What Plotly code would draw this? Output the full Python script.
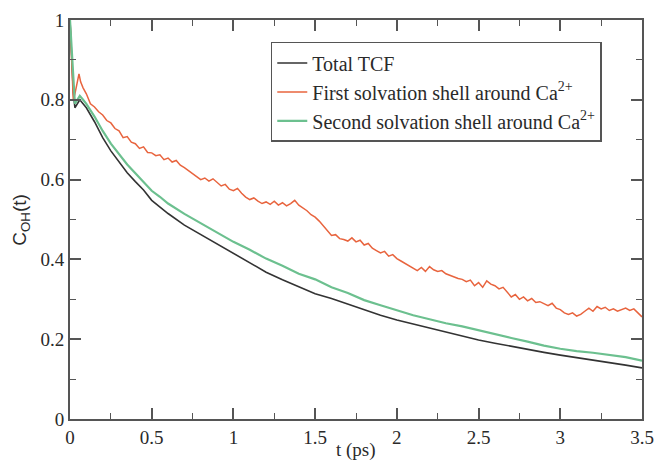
import numpy as np
import plotly.graph_objects as go

# ---- data ----
total_t = [0.0, 0.01, 0.02, 0.03, 0.045, 0.06, 0.08, 0.1, 0.15, 0.2, 0.25, 0.3, 0.35, 0.4, 0.45,
           0.5, 0.55, 0.6, 0.7, 0.8, 0.9, 1.0, 1.1, 1.2, 1.3, 1.4, 1.5, 1.6, 1.7, 1.8, 1.9,
           2.0, 2.1, 2.2, 2.3, 2.4, 2.5, 2.6, 2.7, 2.8, 2.9, 3.0, 3.1, 3.2, 3.3, 3.4, 3.5]
total_v = [1.0, 0.90, 0.82, 0.78, 0.79, 0.80, 0.79, 0.78, 0.745, 0.705, 0.672, 0.644, 0.617, 0.595, 0.574,
           0.548, 0.532, 0.515, 0.486, 0.462, 0.44, 0.416, 0.39, 0.368, 0.349, 0.331, 0.314, 0.302, 0.288, 0.274, 0.26,
           0.248, 0.238, 0.228, 0.217, 0.207, 0.198, 0.19, 0.182, 0.174, 0.167, 0.16, 0.154, 0.148, 0.142, 0.135, 0.128]

second_t = total_t
second_v = [1.0, 0.92, 0.84, 0.79, 0.80, 0.81, 0.80, 0.79, 0.758, 0.722, 0.69, 0.664, 0.638, 0.616, 0.594,
            0.572, 0.557, 0.54, 0.514, 0.49, 0.466, 0.444, 0.424, 0.402, 0.384, 0.364, 0.35, 0.33, 0.316, 0.298, 0.285,
            0.272, 0.26, 0.25, 0.24, 0.232, 0.222, 0.212, 0.203, 0.194, 0.184, 0.176, 0.17, 0.166, 0.161, 0.155, 0.146]

first_t_early = [0.0, 0.01, 0.02, 0.03, 0.045, 0.055, 0.065, 0.08]
first_v_early = [1.0, 0.88, 0.80, 0.815, 0.85, 0.865, 0.845, 0.83]
first_t_main = list(np.round(np.arange(0.1, 3.5001, 0.025), 3))
first_v_main = [
    0.815, 0.790, 0.782, 0.770, 0.762, 0.748, 0.742, 0.728, 0.722, 0.705,
    0.708, 0.694, 0.690, 0.678, 0.682, 0.668, 0.667, 0.660, 0.662, 0.650,
    0.654, 0.644, 0.648, 0.636, 0.630, 0.622, 0.614, 0.606, 0.600, 0.604,
    0.596, 0.602, 0.592, 0.584, 0.588, 0.576, 0.572, 0.578, 0.566, 0.556,
    0.550, 0.554, 0.546, 0.540, 0.544, 0.538, 0.546, 0.536, 0.542, 0.534,
    0.540, 0.548, 0.536, 0.530, 0.522, 0.512, 0.506, 0.496, 0.484, 0.470,
    0.460, 0.462, 0.452, 0.450, 0.446, 0.454, 0.444, 0.448, 0.436, 0.440,
    0.428, 0.422, 0.416, 0.420, 0.408, 0.412, 0.402, 0.396, 0.390, 0.384,
    0.376, 0.372, 0.380, 0.370, 0.382, 0.374, 0.370, 0.372, 0.364, 0.360,
    0.358, 0.352, 0.350, 0.344, 0.348, 0.334, 0.342, 0.330, 0.346, 0.338,
    0.334, 0.326, 0.330, 0.318, 0.306, 0.312, 0.300, 0.306, 0.296, 0.302,
    0.292, 0.294, 0.288, 0.284, 0.290, 0.278, 0.274, 0.266, 0.262, 0.266,
    0.258, 0.262, 0.270, 0.278, 0.270, 0.282, 0.276, 0.280, 0.272, 0.276,
    0.270, 0.274, 0.278, 0.272, 0.276, 0.266, 0.256]
first_t = first_t_early + first_t_main
first_v = first_v_early + first_v_main

names = ["Total TCF",
         "First solvation shell around Ca<sup>2+</sup>",
         "Second solvation shell around Ca<sup>2+</sup>"]

SERIF = "Liberation Serif"
SANS = "Liberation Sans"
AX = "#555555"
TXT = "#2a2a2a"

fig = go.Figure()
fig.add_trace(go.Scatter(x=total_t, y=total_v, mode="lines", name=names[0],
                         line=dict(color="#333333", width=1.6)))
fig.add_trace(go.Scatter(x=first_t, y=first_v, mode="lines", name=names[1],
                         line=dict(color="#e8643e", width=1.5)))
fig.add_trace(go.Scatter(x=second_t, y=second_v, mode="lines", name=names[2],
                         line=dict(color="#6cc08f", width=2.2)))

axis_common = dict(showline=True, linecolor=AX, linewidth=1.8, mirror="allticks",
                   ticks="inside", ticklen=11, tickwidth=1.5, tickcolor=AX,
                   showgrid=False, zeroline=False, automargin=False,
                   tickfont=dict(family=SERIF, size=19, color=TXT))

fig.update_xaxes(range=[0, 3.5], dtick=0.5, tick0=0,
                 minor=dict(dtick=0.25, ticks="inside", ticklen=6, tickcolor=AX, tickwidth=1.3),
                 **axis_common)
fig.update_yaxes(range=[0, 1], dtick=0.2, tick0=0,
                 minor=dict(dtick=0.1, ticks="inside", ticklen=6, tickcolor=AX, tickwidth=1.3),
                 **axis_common)

fig.add_annotation(text="t (ps)", xref="paper", yref="paper", x=0.5, y=-0.078,
                   xanchor="center", yanchor="middle", showarrow=False,
                   font=dict(family=SERIF, size=19, color=TXT))
fig.add_annotation(text="C<sub>OH</sub>(t)", xref="paper", yref="paper", x=-0.087, y=0.5,
                   xanchor="center", yanchor="middle", showarrow=False, textangle=-90,
                   font=dict(family=SANS, size=19, color=TXT))

fig.update_layout(
    width=658, height=460,
    margin=dict(l=70, r=16, t=20, b=41),
    plot_bgcolor="white", paper_bgcolor="white",
    legend=dict(x=0.351, y=0.945, xanchor="left", yanchor="top",
                bordercolor=AX, borderwidth=1.5, bgcolor="white",
                font=dict(family=SERIF, size=20, color=TXT),
                tracegroupgap=0),
)

fig.write_html("out.html")
